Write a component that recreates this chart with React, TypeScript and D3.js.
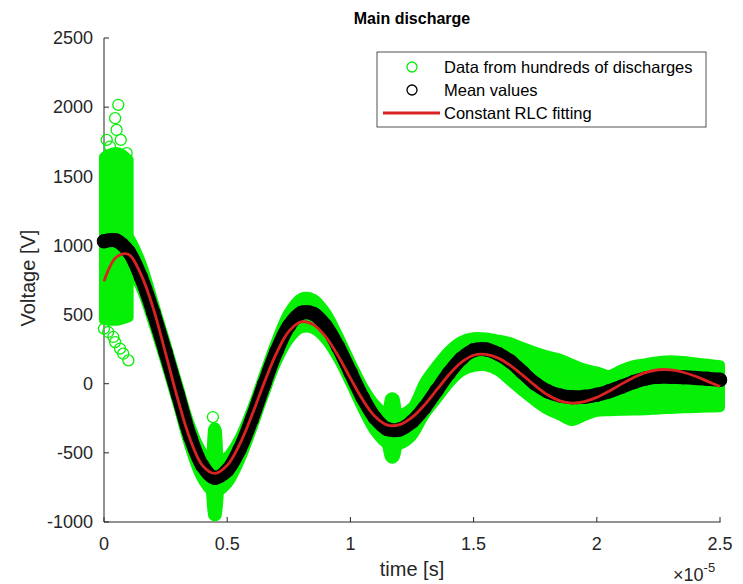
import React from 'react';
import * as d3 from 'd3';

// Sample times in microseconds (shared by the mean trace, the scatter envelope and the fit)
const sampleTimesUs = [
  0, 0.5, 1, 1.5, 2, 2.5, 3, 3.5, 4, 4.5, 5, 5.5, 6, 6.5, 7, 7.5, 8, 8.5, 9, 9.5,
  10, 10.5, 11, 11.5, 12, 12.5, 13, 13.5, 14, 14.5, 15, 15.5, 16, 16.5, 17, 17.5,
  18, 18.5, 19, 19.5, 20, 20.5, 21, 21.5, 22, 22.5, 23, 23.5, 24, 24.5, 25,
];

// Mean voltage over all discharges [V]
const meanVoltage = [
  1030, 1035, 955, 770, 515, 225, -80, -385, -595, -680, -627, -476, -256, -4, 234, 417, 511, 505, 417, 266,
  82, -101, -247, -328, -331, -275, -175, -49, 77, 181, 242, 248, 215, 160, 80, 0,
  -55, -85, -97, -95, -80, -55, -22, 12, 38, 50, 50, 47, 42, 35, 28,
];

// Constant RLC model fitted to the mean [V]
const rlcFitVoltage = [
  740, 915, 935, 790, 545, 220, -115, -403, -592, -649, -590, -440, -229, 6, 221, 378, 448, 427, 339, 202,
  40, -116, -237, -299, -296, -244, -155, -45, 65, 154, 206, 212, 185, 131, 60, -14,
  -80, -124, -140, -129, -99, -54, -3, 45, 82, 101, 100, 83, 54, 17, -20,
];

// Upper / lower extent of the scatter cloud along the waveform [V]
const scatterHigh = [
  1140, 1145, 1065, 880, 595, 300, -5, -300, -495, -570, -527, -391, -181, 71, 314, 517, 621, 615, 517, 351,
  162, -16, -147, -218, -221, -170, 10, 134, 240, 309, 336, 334, 319, 299, 264, 232,
  204, 181, 144, 109, 89, 64, 104, 134, 149, 162, 169, 164, 154, 144, 134,
];
const scatterLow = [
  920, 925, 845, 690, 435, 150, -155, -470, -695, -790, -727, -561, -331, -79, 154, 317, 401, 395, 317, 181,
  2, -186, -347, -438, -441, -380, -229, -114, 1, 86, 121, 126, 91, 16, -59, -129,
  -189, -230, -269, -234, -204, -199, -196, -194, -192, -186, -182, -178, -175, -172, -170,
];

// Dense cloud of the first microsecond (wide spread at breakdown)
const burstTimesUs = [0, 0.25, 0.5, 0.75, 1.0];
const burstHigh = [1640, 1665, 1675, 1660, 1620];
const burstLow = [460, 455, 455, 465, 480];

// Narrow spikes of the scatter near the first two troughs
const spikeOneTimesUs = [4.35, 4.42, 4.5, 4.58, 4.65];
const spikeOneHigh = [-600, -330, -315, -340, -600];
const spikeOneLow = [-800, -950, -960, -950, -820];
const spikeTwoTimesUs = [11.5, 11.6, 11.7, 11.8, 11.9];
const spikeTwoHigh = [-250, -110, -97, -110, -250];
const spikeTwoLow = [-450, -530, -542, -530, -450];

// Isolated discharges lying outside the cloud: [time µs, voltage V]
const outlierPoints: [number, number][] = [
  [0.58, 2017], [0.45, 1920], [0.51, 1835], [0.11, 1763], [0.68, 1763], [0.92, 1667], [0.24, 1715],
  [0.0, 398], [0.17, 374], [0.38, 338], [0.45, 301], [0.65, 254], [0.78, 217], [0.99, 169],
  [4.42, -241],
];

const xTickValues = [0, 0.5e-5, 1e-5, 1.5e-5, 2e-5, 2.5e-5];
const xTickLabels = ['0', '0.5', '1', '1.5', '2', '2.5'];
const yTickValues = [-1000, -500, 0, 500, 1000, 1500, 2000, 2500];
const yTickLabels = ['-1000', '-500', '0', '500', '1000', '1500', '2000', '2500'];

const legendLabels = ['Data from hundreds of discharges', 'Mean values', 'Constant RLC fitting'];

const W = 743;
const H = 584;
const US = 1e-6;
const FONT = '"Liberation Sans", Arial, Helvetica, sans-serif';
const INK = '#262626';
const GREEN = '#05f005';
const RED = '#d92323';

export default function App() {
  const x = d3.scaleLinear().domain([0, 2.5e-5]).range([104, 720]);
  const y = d3.scaleLinear().domain([-1000, 2500]).range([522, 38]);
  const px = (tUs: number) => x(tUs * US);

  const smooth = d3.curveCatmullRom.alpha(0.5);

  type Band = { t: number; hi: number; lo: number };
  const areaSmooth = d3
    .area<Band>()
    .x((d) => px(d.t))
    .y0((d) => y(d.lo))
    .y1((d) => y(d.hi))
    .curve(smooth);
  const areaMono = d3
    .area<Band>()
    .x((d) => px(d.t))
    .y0((d) => y(d.lo))
    .y1((d) => y(d.hi))
    .curve(d3.curveMonotoneX);

  const band = (ts: number[], hi: number[], lo: number[]): Band[] =>
    ts.map((t, i) => ({ t, hi: hi[i], lo: lo[i] }));

  const cloud = band(sampleTimesUs, scatterHigh, scatterLow);
  const burst = band(burstTimesUs, burstHigh, burstLow);
  const spikeOne = band(spikeOneTimesUs, spikeOneHigh, spikeOneLow);
  const spikeTwo = band(spikeTwoTimesUs, spikeTwoHigh, spikeTwoLow);

  const trace = d3
    .line<[number, number]>()
    .x((d) => px(d[0]))
    .y((d) => y(d[1]))
    .curve(smooth);

  const meanPts: [number, number][] = sampleTimesUs.map((t, i) => [t, meanVoltage[i]]);
  const fitPts: [number, number][] = sampleTimesUs.map((t, i) => [t, rlcFitVoltage[i]]);

  const [x0, x1] = x.range();
  const [yBottom, yTop] = y.range();

  const cloudStyle = {
    fill: GREEN,
    stroke: GREEN,
    strokeWidth: 10,
    strokeLinejoin: 'round' as const,
  };

  // legend geometry
  const lg = { x: 377, y: 52, w: 329, h: 75 };
  const rowY = [67, 90, 113];

  return (
    <svg
      width={W}
      height={H}
      viewBox={`0 0 ${W} ${H}`}
      style={{ position: 'absolute', left: 0, top: 0, background: '#fff', fontFamily: FONT }}
    >
      <rect x={0} y={0} width={W} height={H} fill="#fff" />

      {/* axes */}
      <g stroke={INK} strokeWidth={1} fill="none">
        <line x1={x0} y1={yBottom} x2={x1 + 0.5} y2={yBottom} />
        <line x1={x0} y1={yBottom} x2={x0} y2={yTop} />
        {xTickValues.map((v) => (
          <line key={`xt${v}`} x1={x(v)} x2={x(v)} y1={yBottom} y2={yBottom - 5} />
        ))}
        {yTickValues.map((v) => (
          <line key={`yt${v}`} x1={x0} x2={x0 + 5} y1={y(v)} y2={y(v)} />
        ))}
      </g>

      {/* scatter of all discharges */}
      <g>
        <path d={areaSmooth(cloud) ?? ''} {...cloudStyle} />
        <path d={areaMono(burst) ?? ''} {...cloudStyle} />
        <path d={areaMono(spikeOne) ?? ''} {...cloudStyle} />
        <path d={areaMono(spikeTwo) ?? ''} {...cloudStyle} />
        {outlierPoints.map(([t, v], i) => (
          <circle key={`o${i}`} cx={px(t)} cy={y(v)} r={5.5} fill="none" stroke={GREEN} strokeWidth={1.3} />
        ))}
      </g>

      {/* mean values */}
      <g>
        <path d={trace(meanPts) ?? ''} fill="none" stroke="#000" strokeWidth={14} strokeLinecap="round" strokeLinejoin="round" />
        {meanPts.map(([t, v], i) => (
          <circle key={`m${i}`} cx={px(t)} cy={y(v)} r={6.5} fill="none" stroke="#000" strokeWidth={1.5} />
        ))}
      </g>

      {/* RLC fit */}
      <path d={trace(fitPts) ?? ''} fill="none" stroke={RED} strokeWidth={2.8} strokeLinejoin="round" />

      {/* tick labels */}
      <g fill={INK} fontSize={18}>
        {xTickValues.map((v, i) => (
          <text key={`xl${v}`} x={x(v)} y={550} textAnchor="middle">
            {xTickLabels[i]}
          </text>
        ))}
        {yTickValues.map((v, i) => (
          <text key={`yl${v}`} x={93} y={y(v)} dy="0.35em" textAnchor="end">
            {yTickLabels[i]}
          </text>
        ))}
        <text x={673} y={581}>
          ×10
          <tspan fontSize={13} dy={-9}>
            -5
          </tspan>
        </text>
      </g>

      {/* axis labels and title */}
      <text x={(x0 + x1) / 2} y={576} textAnchor="middle" fontSize={20} fill={INK}>
        time [s]
      </text>
      <text transform="translate(35,278) rotate(-90)" textAnchor="middle" fontSize={20} fill={INK}>
        Voltage [V]
      </text>
      <text x={(x0 + x1) / 2} y={24} textAnchor="middle" fontSize={16} fontWeight="bold" fill="#000">
        Main discharge
      </text>

      {/* legend */}
      <g>
        <rect x={lg.x} y={lg.y} width={lg.w} height={lg.h} fill="#fff" stroke={INK} strokeWidth={0.8} />
        <circle cx={412} cy={rowY[0]} r={5} fill="none" stroke={GREEN} strokeWidth={1.3} />
        <circle cx={412} cy={rowY[1]} r={5} fill="none" stroke="#000" strokeWidth={1.3} />
        <line x1={383} x2={440} y1={rowY[2]} y2={rowY[2]} stroke={RED} strokeWidth={2.8} />
        {legendLabels.map((s, i) => (
          <text key={s} x={444} y={rowY[i]} dy="0.35em" fontSize={16.5} fill="#000">
            {s}
          </text>
        ))}
      </g>
    </svg>
  );
}
